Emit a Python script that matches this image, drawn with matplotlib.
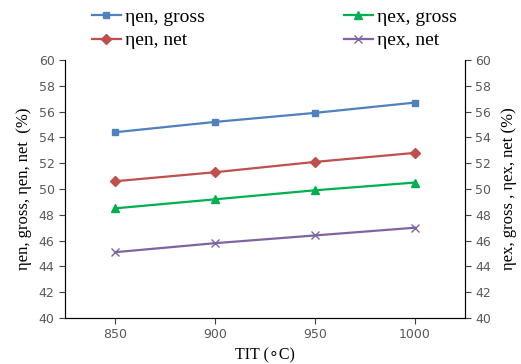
import matplotlib.pyplot as plt

tit = [850, 900, 950, 1000]
en_gross = [54.4, 55.2, 55.9, 56.7]
en_net = [50.6, 51.3, 52.1, 52.8]
ex_gross = [48.5, 49.2, 49.9, 50.5]
ex_net = [45.1, 45.8, 46.4, 47.0]
yticks = list(range(40, 61, 2))

serif = ['Liberation Serif', 'DejaVu Sans']
grey = '#595959'

fig = plt.figure(figsize=(5.21, 3.64), dpi=100)
ax = fig.add_axes([65 / 521, 1 - 318 / 364, 400 / 521, 258 / 364])

l1, = ax.plot(tit, en_gross, color='#4F81BD', marker='s', ms=5, lw=1.6, label='\u03b7en, gross')
l2, = ax.plot(tit, en_net, color='#C0504D', marker='D', ms=5, lw=1.6, label='\u03b7en, net')
l3, = ax.plot(tit, ex_gross, color='#00B050', marker='^', ms=5.5, lw=1.6, label='\u03b7ex, gross')
l4, = ax.plot(tit, ex_net, color='#8064A2', marker='x', ms=6, lw=1.6, label='\u03b7ex, net')

ax.set_xlim(825, 1025)
ax.set_ylim(40, 60)
ax.set_xticks(tit)
ax.set_yticks(yticks)
ax.tick_params(colors='#404040', labelcolor=grey, labelsize=9, direction='out', length=4)
for s in ['left', 'bottom', 'right', 'top']:
    ax.spines[s].set_color('#404040')
ax.spines['top'].set_visible(False)

ax2 = ax.twinx()
ax2.set_ylim(40, 60)
ax2.set_yticks(yticks)
ax2.tick_params(colors='#404040', labelcolor=grey, labelsize=9, direction='out', length=4)
ax2.spines['top'].set_visible(False)

ax.set_xlabel('TIT (\u2218C)', family=serif, fontsize=11.5, labelpad=4)
ax.set_ylabel('\u03b7en, gross, \u03b7en, net  (%)', family=serif, fontsize=12, labelpad=5)
ax2.set_ylabel('\u03b7ex, gross , \u03b7ex, net (%)', family=serif, fontsize=12, labelpad=7)

leg_kw = dict(loc='upper left', frameon=False, prop={'family': serif, 'size': 14},
              handlelength=1.5, labelspacing=0.3, handletextpad=0.2)
fig.legend(handles=[l1, l2], bbox_to_anchor=(74 / 521, 1.025), **leg_kw)
fig.legend(handles=[l3, l4], bbox_to_anchor=(326 / 521, 1.025), **leg_kw)

fig.savefig('out.png', dpi=100)
